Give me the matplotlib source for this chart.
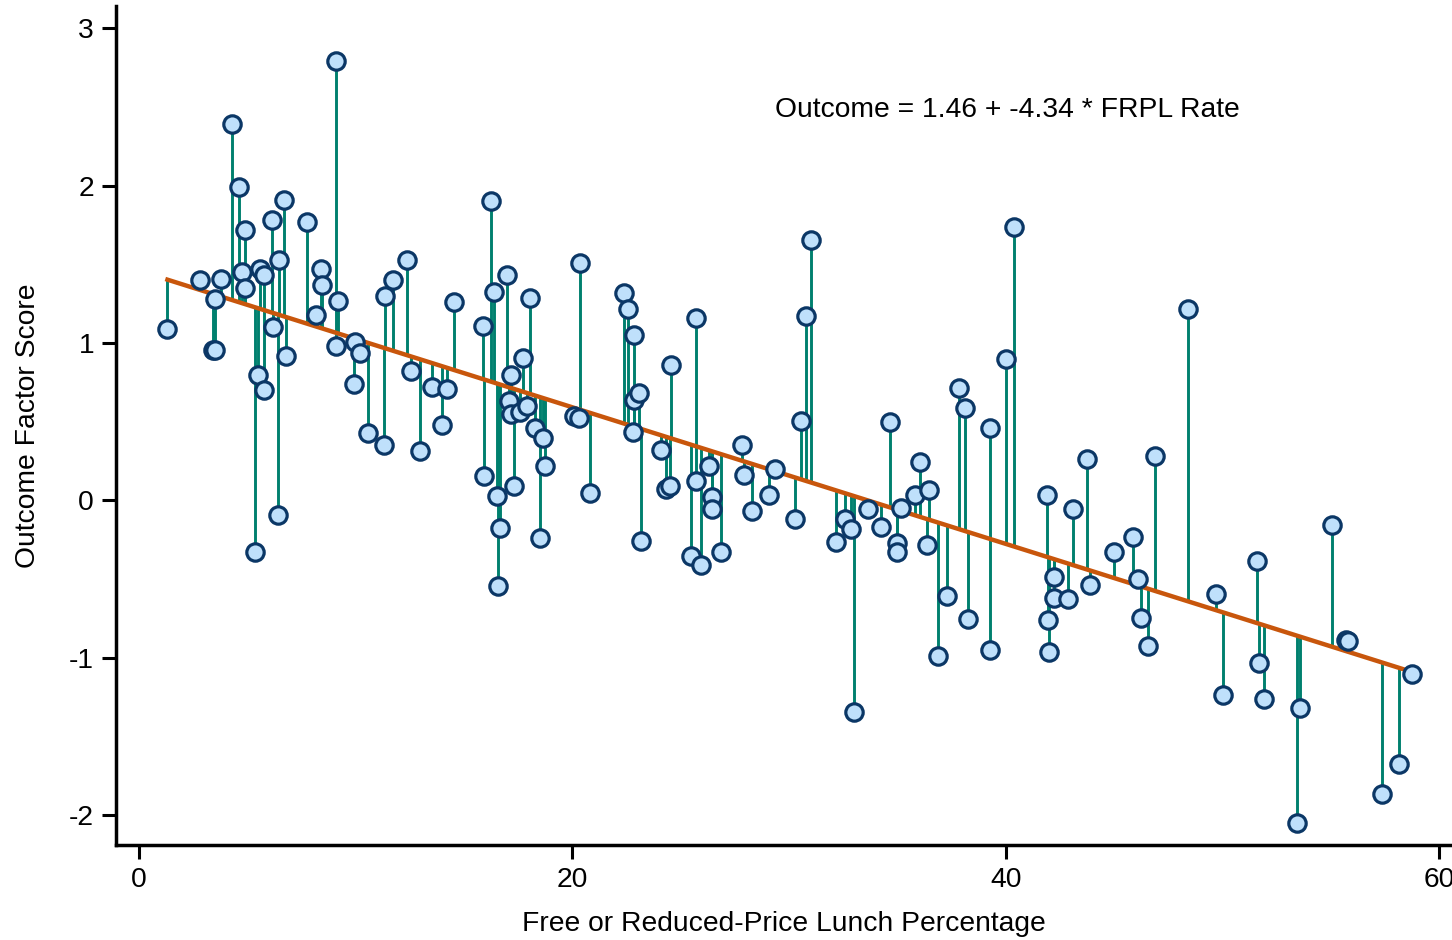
import numpy as np
import matplotlib
matplotlib.use("Agg")
import matplotlib.pyplot as plt

plt.rcParams['font.family'] = ['Liberation Sans', 'DejaVu Sans']

# FRPL percentage and outcome factor score
frpl = [1.31, 2.79, 3.50, 3.40, 3.52, 3.79, 4.28, 4.59, 4.73, 4.87,
        4.87, 5.34, 5.51, 5.59, 5.77, 5.77, 6.14, 6.17, 6.41, 6.48,
        6.67, 6.80, 7.73, 8.16, 8.38, 8.45, 9.09, 9.11, 9.18, 9.92,
        9.98, 10.21, 10.58, 11.30, 11.33, 11.70, 12.36, 12.55, 12.98, 13.53,
        14.00, 14.21, 14.52, 15.87, 15.90, 16.23, 16.37, 16.50, 16.55, 16.67,
        16.97, 17.09, 17.15, 17.15, 17.32, 17.60, 17.74, 17.91, 18.03, 18.26,
        18.48, 18.65, 18.72, 20.06, 20.32, 20.37, 20.80, 22.36, 22.56, 22.79,
        22.83, 22.86, 23.08, 23.16, 24.07, 24.30, 24.49, 24.55, 25.45, 25.70,
        25.71, 25.94, 26.30, 26.42, 26.44, 26.85, 27.82, 27.91, 28.30, 29.07,
        29.35, 30.28, 30.53, 30.78, 31.02, 32.15, 32.58, 32.84, 32.98, 33.64,
        34.26, 34.67, 35.00, 34.97, 35.15, 35.83, 36.04, 36.38, 36.46, 36.89,
        37.27, 37.86, 38.11, 38.25, 39.28, 39.28, 40.01, 40.37, 41.88, 41.95,
        41.99, 42.23, 42.23, 42.85, 43.08, 43.76, 43.87, 45.00, 45.88, 46.08,
        46.25, 46.57, 46.88, 48.42, 49.70, 50.04, 51.58, 51.67, 51.93, 53.46,
        53.58, 55.03, 55.70, 55.80, 57.34, 58.15, 58.74]
score = [1.09, 1.40, 1.28, 0.955, 0.955, 1.41, 2.39, 1.99, 1.45, 1.72,
         1.35, -0.33, 0.80, 1.47, 1.43, 0.70, 1.78, 1.10, -0.09, 1.53,
         1.91, 0.92, 1.77, 1.18, 1.47, 1.37, 2.79, 0.98, 1.27, 0.74,
         1.01, 0.935, 0.43, 0.35, 1.30, 1.40, 1.53, 0.82, 0.314, 0.72,
         0.48, 0.706, 1.26, 1.11, 0.155, 1.90, 1.325, 0.027, -0.545, -0.176,
         1.435, 0.63, 0.80, 0.55, 0.095, 0.56, 0.905, 0.60, 1.285, 0.46,
         -0.237, 0.40, 0.22, 0.536, 0.526, 1.51, 0.045, 1.32, 1.215, 0.435,
         0.64, 1.054, 0.68, -0.26, 0.318, 0.07, 0.095, 0.86, -0.354, 0.125,
         1.158, -0.413, 0.218, 0.021, -0.053, -0.329, 0.352, 0.159, -0.064, 0.032,
         0.197, -0.117, 0.505, 1.175, 1.656, -0.265, -0.117, -0.184, -1.347, -0.057,
         -0.168, 0.498, -0.27, -0.329, -0.049, 0.036, 0.246, -0.282, 0.066, -0.99,
         -0.609, 0.717, 0.587, -0.75, 0.458, -0.952, 0.899, 1.739, 0.034, -0.757,
         -0.963, -0.488, -0.62, -0.625, -0.057, 0.261, -0.539, -0.327, -0.233, -0.498,
         -0.744, -0.927, 0.284, 1.219, -0.592, -1.237, -0.382, -1.032, -1.261, -2.048,
         -1.32, -0.157, -0.884, -0.89, -1.866, -1.675, -1.10]

intercept = 1.46
slope = -4.34  # per unit of FRPL rate (fraction)

x = np.array(frpl)
y = np.array(score)
yhat = intercept + slope * x / 100

fs = 20.3

fig = plt.figure(figsize=(14.52, 9.4), dpi=100)
ax = fig.add_axes([0.0801, 0.1011, 0.9199, 0.8925])

ax.vlines(x, yhat, y, color='#00806e', linewidth=2.1, zorder=2)
xs = np.array([x.min(), x.max()])
ax.plot(xs, intercept + slope * xs / 100, color='#c8560c', linewidth=3.2, zorder=3)
ax.plot(x, y, 'o', markersize=12.5, markerfacecolor='#bfe0fb',
        markeredgecolor='#0b3766', markeredgewidth=2.3, zorder=4)

ax.text(29.35, 2.48, 'Outcome = 1.46 + -4.34 * FRPL Rate', fontsize=fs,
        ha='left', va='center')

ax.set_xlim(-1.05, 60.59)
ax.set_ylim(-2.189, 3.142)
ax.set_xticks([0, 20, 40, 60])
ax.set_yticks([-2, -1, 0, 1, 2, 3])
ax.set_yticklabels(['-2', '-1', '0', '1', '2', '3'])
ax.tick_params(axis='both', direction='out', length=10, width=2.2,
               labelsize=fs, pad=6)
ax.set_xlabel('Free or Reduced-Price Lunch Percentage', fontsize=fs, labelpad=13)
ax.set_ylabel('Outcome Factor Score', fontsize=fs, labelpad=20)

for side in ['top', 'right']:
    ax.spines[side].set_visible(False)
for side in ['left', 'bottom']:
    ax.spines[side].set_linewidth(2.5)

fig.savefig('out.png', dpi=100)
